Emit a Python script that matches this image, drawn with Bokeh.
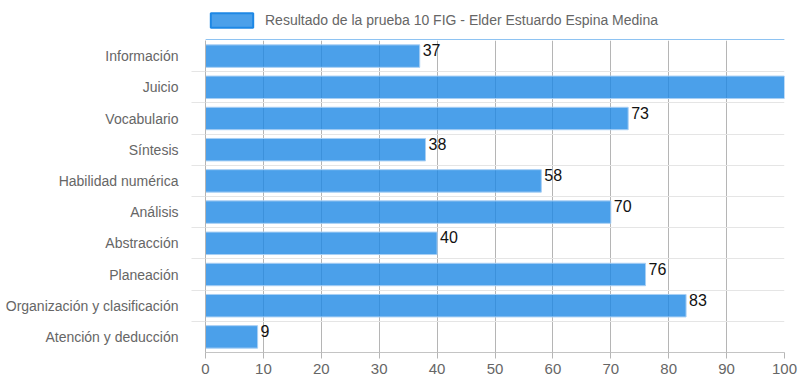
from bokeh.plotting import figure
from bokeh.layouts import column
from bokeh.models import Range1d, FixedTicker, Legend, LegendItem, ColumnDataSource, LabelSet
from bokeh.core.properties import value
from bokeh.embed import file_html
from bokeh.resources import INLINE

categories = ["Información", "Juicio", "Vocabulario", "Síntesis", "Habilidad numérica",
              "Análisis", "Abstracción", "Planeación", "Organización y clasificación",
              "Atención y deducción"]
scores = [37, 100, 73, 38, 58, 70, 40, 76, 83, 9]
x_ticks = [0, 10, 20, 30, 40, 50, 60, 70, 80, 90, 100]
series_name = "Resultado de la prueba 10 FIG - Elder Estuardo Espina Medina"

n = len(categories)
centers = [i + 0.5 for i in range(n)]
bounds = [i + 1 for i in range(n)]
src = ColumnDataSource(dict(y=centers, right=scores, label=[str(s) for s in scores]))

# legend strip (own figure so the legend is not clipped by the chart frame)
lg = figure(width=800, height=40, output_backend="svg", toolbar_location=None,
            x_range=Range1d(0, 1), y_range=Range1d(0, 1),
            x_axis_type=None, y_axis_type=None,
            min_border_left=0, min_border_right=0, min_border_top=0, min_border_bottom=0)
lg.outline_line_color = None
# legend proxy: one series entry kept outside the strip's visible range
leg_src = ColumnDataSource(dict(y=[-10], right=[scores[0]]))
leg_r = lg.hbar(y="y", right="right", left=0, height=0.5, source=leg_src,
                fill_color="#1E88E5", fill_alpha=0.8, line_color="#1E88E5", line_width=2)
legend = Legend(items=[LegendItem(label=series_name, renderers=[leg_r])],
                orientation="horizontal", location=(0, 11),
                glyph_width=53, glyph_height=18, label_standoff=7,
                label_text_font="Liberation Sans", label_text_font_size="14px",
                label_text_color="#666666", border_line_color=None,
                background_fill_alpha=0, padding=0, margin=0, spacing=0)
lg.add_layout(legend, "center")

p = figure(width=800, height=346, output_backend="svg", toolbar_location=None,
           x_range=Range1d(0, 100), y_range=Range1d(n, 0),
           min_border_left=205, min_border_right=16, min_border_top=0, min_border_bottom=34)
p.outline_line_color = None

p.xgrid.ticker = FixedTicker(ticks=x_ticks)
p.xgrid.grid_line_color = "#b5b5b5"
p.ygrid.ticker = FixedTicker(ticks=bounds)
p.ygrid.grid_line_color = "#e5e5e5"

p.hbar(y="y", right="right", left=0, height=0.72, source=src,
       fill_color="#1E88E5", fill_alpha=0.8, line_color="#a8cff4", line_width=1)

labels = LabelSet(x="right", y="y", text="label", source=src, x_offset=3,
                  text_baseline="alphabetic", text_align="left",
                  text_font=value("Liberation Sans Narrow, Liberation Sans"),
                  text_font_size="16px", text_color="#111111")
p.add_layout(labels)

xa = p.xaxis[0]
xa.ticker = FixedTicker(ticks=x_ticks)
xa.major_label_text_font = "Liberation Sans"
xa.major_label_text_font_size = "15px"
xa.major_label_text_color = "#666666"
xa.axis_line_color = "#c4c4c4"
xa.major_tick_line_color = "#b5b5b5"
xa.major_tick_out = 6
xa.major_tick_in = 0
xa.minor_tick_line_color = None
xa.major_label_standoff = 5

ya = p.yaxis[0]
ya.ticker = FixedTicker(ticks=centers, minor_ticks=bounds[:-1])
ya.major_label_overrides = {c: cat for c, cat in zip(centers, categories)}
ya.major_label_text_font = "Liberation Sans"
ya.major_label_text_font_size = "14px"
ya.major_label_text_color = "#666666"
ya.axis_line_color = "#b5b5b5"
ya.major_tick_line_color = None
ya.minor_tick_line_color = "#e5e5e5"
ya.minor_tick_out = 14
ya.minor_tick_in = 0
ya.major_label_standoff = 13

layout = column(lg, p, spacing=0)
open("out.html", "w").write(file_html(layout, INLINE))
